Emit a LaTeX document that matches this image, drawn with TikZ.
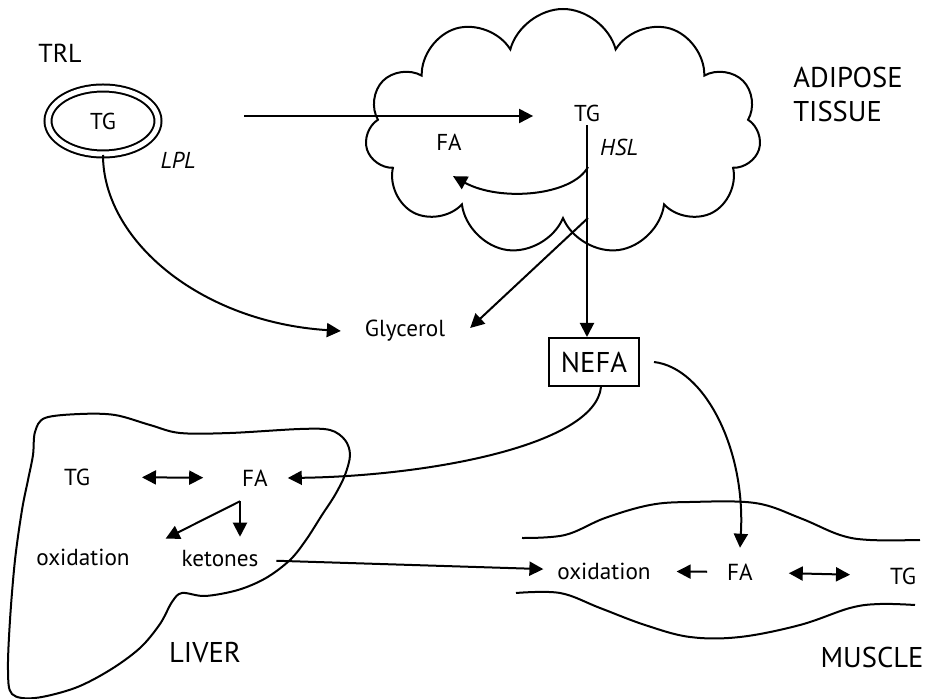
\documentclass[tikz,border=0pt]{standalone}
\usepackage{fontspec}
\setmainfont{PT Sans}
\usepackage{tikz}
\usetikzlibrary{arrows.meta,positioning,shapes.geometric,shapes.symbols}

\begin{document}
\begin{tikzpicture}[x=0.5pt,y=-0.5pt,line width=1pt,
    small/.style={inner sep=1.5pt,font=\fontsize{11.5}{13}\selectfont},
    mid/.style={inner sep=1.5pt,font=\fontsize{11.6}{13}\selectfont},
    big/.style={inner sep=1.5pt,font=\fontsize{14.3}{17}\selectfont},
    arr/.style={-{Triangle[length=7pt,width=7pt]}},
    dbl/.style={{Triangle[length=7pt,width=7pt]}-{Triangle[length=7pt,width=7pt]}}]
  \useasboundingbox (0,0) rectangle (928,699);

  % adipose tissue
  \node[cloud,draw,cloud puffs=11,aspect=1.6,minimum width=198pt,
    minimum height=123pt] (cloud) at (563,132) {};
  \node[small] (tgAT) at (587,113) {TG};
  \node[small] (faAT) at (449,142) {FA};
  \node[small,font=\fontsize{11.5}{13}\selectfont\itshape] (hsl) at (619,147) {HSL};
  \node[big,align=left] (adipose) at (848,94) {ADIPOSE\\TISSUE};

  % lipoprotein
  \node[big,font=\fontsize{13}{15}\selectfont] (trlLbl) at (60,53) {TRL};
  \node[small,ellipse,draw,double,double distance=2.5pt,inner sep=0pt,
    minimum width=55pt,minimum height=33pt] (trl) at (103,121) {TG};
  \node[small,font=\fontsize{11.5}{13}\selectfont\itshape] (lpl) at (178,160) {LPL};

  \node[mid] (glycerol) at (405,331) {Glycerol};
  \node[draw,inner sep=0pt,minimum width=45pt,minimum height=24pt,
    font=\fontsize{14.3}{16}\selectfont] (nefa) at (594,362) {NEFA};

  % liver
  \draw plot[smooth cycle,tension=0.55] coordinates {(35,432) (45,418) (80,414)
    (115,415) (150,425) (180,433) (230,433) (300,429) (330,430) (345,440)
    (350,455) (345,475) (335,495) (322,515) (306,540) (290,560) (266,578)
    (238,590) (205,596) (182,593) (172,602) (160,624) (140,648) (110,670)
    (75,688) (35,698) (12,694) (8,670) (10,620) (15,560) (22,510) (28,480)
    (33,455)};
  \node[mid] (tgLiv) at (77,477) {TG};
  \node[mid] (faLiv) at (255,478) {FA};
  \node[mid] (oxLiv) at (83,557) {oxidation};
  \node[mid] (ketLiv) at (220,559) {ketones};
  \node[big] (liver) at (205,653) {LIVER};

  % muscle
  \draw plot[smooth,tension=0.6] coordinates {(522,538) (565,535) (605,518)
    (650,505) (690,502) (755,503) (800,518) (840,535) (870,540) (920,540)};
  \draw plot[smooth,tension=0.6] coordinates {(516,593) (560,593) (600,608)
    (645,625) (690,637) (740,637) (800,625) (850,608) (880,604) (915,605)};
  \node[mid] (oxMus) at (604,571) {oxidation};
  \node[mid] (faMus) at (740,572) {FA};
  \node[mid] (tgMus) at (903,576) {TG};
  \node[big] (muscle) at (872,657) {MUSCLE};

  \coordinate (brFA) at (588,167);
  \coordinate (brGly) at (588,218);
  \coordinate (faSplit) at ([shift={(-15,11)}]faLiv.south);

  \draw[arr] ([shift={(85,-5)}]trl.east) -- ([shift={(-37,3)}]tgAT.west);
  \draw[arr] (trl.south) .. controls (103,240) and (200,322)
    .. ([xshift=-10pt]glycerol.west);
  \draw[arr] (tgAT.south) -- (tgAT.south |- nefa.north);
  \draw[arr] (brFA) .. controls (572,196) and (500,202)
    .. ([shift={(4,22)}]faAT.south);
  \draw[arr] (brGly) -- ([shift={(21,-3)}]glycerol.east);

  \draw[arr] ([xshift=3.5pt]nefa.south) .. controls (595,445) and (430,476)
    .. ([xshift=8pt]faLiv.east);
  \draw[arr] ([xshift=7pt]nefa.east) .. controls (705,368) and (746,450)
    .. ([yshift=6pt]faMus.north);

  \draw[dbl,shorten <=24pt,shorten >=17.5pt] (tgLiv) -- (faLiv);
  \draw[arr,shorten >=5pt] (faSplit) -- (faSplit |- ketLiv.north);
  \draw[arr] (faSplit) -- ([shift={(32,-6)}]oxLiv.north east);
  \draw[arr,shorten <=7pt,shorten >=5pt] (ketLiv) -- (oxMus);

  \draw[arr,shorten <=8pt,shorten >=11pt] (faMus) -- (oxMus);
  \draw[dbl,shorten <=16pt,shorten >=18pt] (faMus) -- (tgMus);
\end{tikzpicture}
\end{document}
